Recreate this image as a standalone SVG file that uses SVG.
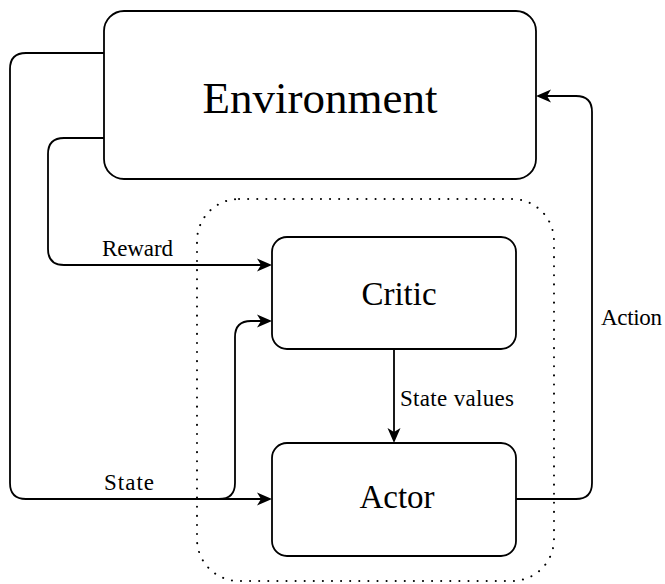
<svg xmlns="http://www.w3.org/2000/svg" width="665" height="584" viewBox="0 0 665 584">
<style>
.box{fill:#fff;stroke:#000;stroke-width:1.8}
.ln{fill:none;stroke:#000;stroke-width:1.8}
</style>
<defs>
<marker id="arr" markerUnits="userSpaceOnUse" markerWidth="16" markerHeight="14" viewBox="0 0 16 14" refX="11" refY="7" orient="auto">
<path d="M0,0.5 L15,7 L0,13.5 L4,7 Z" fill="#000"/>
</marker>
</defs>
<rect x="0" y="0" width="665" height="584" fill="#fff"/>
<g id="group">
<rect x="197" y="199" width="357" height="382" rx="42" ry="42" fill="none" stroke="#000" stroke-width="2" stroke-dasharray="0.1 9" stroke-linecap="round"/>
</g>
<g id="connectors" font-family="'Liberation Serif', 'DejaVu Serif', serif" font-size="23" fill="#000">
<path class="ln" d="M104,53 H26 Q10,53 10,69 V483 Q10,499 26,499 H219 Q235,499 235,483 V337 Q235,321 251,321 H268" marker-end="url(#arr)"/>
<path class="ln" d="M85,499 H268" marker-end="url(#arr)"/>
<path class="ln" d="M104,138 H64 Q48,138 48,154 V249 Q48,265 64,265 H268" marker-end="url(#arr)"/>
<path class="ln" d="M394,349 V439" marker-end="url(#arr)"/>
<path class="ln" d="M516,499 H576 Q592,499 592,483 V112 Q592,96 576,96 H540" marker-end="url(#arr)"/>
<text x="102" y="256" textLength="71">Reward</text>
<text x="104" y="490" textLength="50">State</text>
<text x="400" y="406" textLength="114">State values</text>
<text x="601" y="325" textLength="61">Action</text>
</g>
<g id="environment">
<rect class="box" x="104" y="11" width="432" height="168" rx="20" ry="20"/>
<text x="320" y="113" font-size="45" text-anchor="middle" font-family="'Liberation Serif', 'DejaVu Serif', serif">Environment</text>
</g>
<g id="critic">
<rect class="box" x="272" y="237" width="244" height="112" rx="15" ry="15"/>
<text x="399" y="305" font-size="33" text-anchor="middle" font-family="'Liberation Serif', 'DejaVu Serif', serif">Critic</text>
</g>
<g id="actor">
<rect class="box" x="272" y="443" width="244" height="113" rx="15" ry="15"/>
<text x="397" y="508" font-size="33" text-anchor="middle" font-family="'Liberation Serif', 'DejaVu Serif', serif">Actor</text>
</g>
</svg>
